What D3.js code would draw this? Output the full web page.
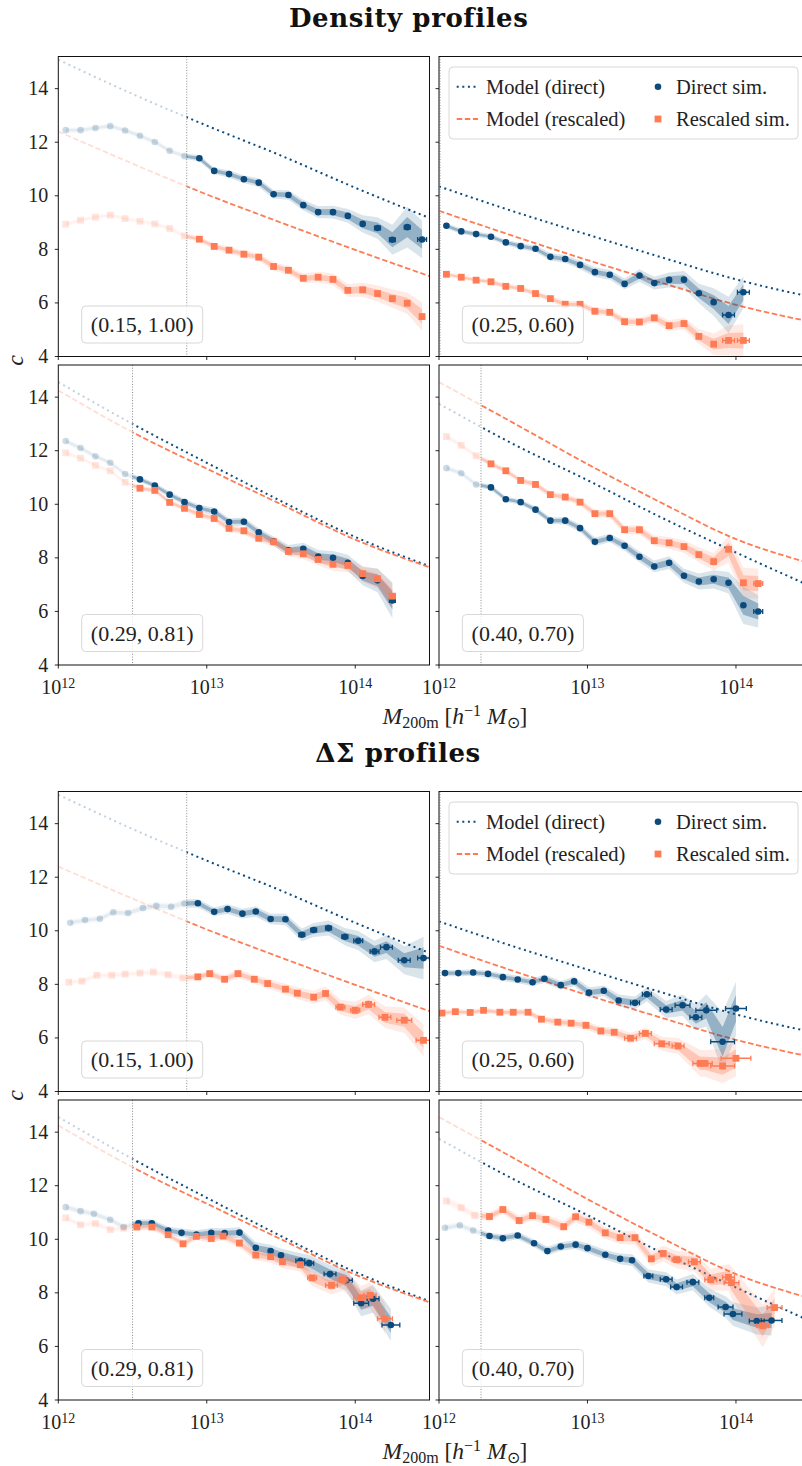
<!DOCTYPE html>
<html><head><meta charset="utf-8">
<script src="https://cdn.jsdelivr.net/npm/d3@7"></script>
<style>body{margin:0;background:#fff}svg{display:block}</style></head>
<body><svg id="c" width="802" height="1466"></svg>
<script>
// ---------------- DATA ----------------
const modelLogM = [12.0, 12.5, 13.0, 13.5, 14.0, 14.5];
const modelTL_dir = [15.08, 13.80, 12.62, 11.50, 10.30, 9.17];
const modelTL_res = [12.40, 11.20, 10.05, 9.00, 7.98, 7.00];
const modelTR_dir = [10.35, 9.42, 8.55, 7.70, 6.88, 6.23];
const modelTR_res = [9.44, 8.50, 7.60, 6.75, 5.93, 5.30];
const modelBL_dir = [14.56, 13.00, 11.55, 10.12, 8.78, 7.69];
const modelBL_res = [14.25, 12.69, 11.33, 10.00, 8.68, 7.65];
const modelBR_dir = [13.75, 12.25, 10.90, 9.50, 8.20, 6.95];
const modelBR_res = [14.56, 13.04, 11.50, 10.05, 8.70, 7.80];

const panelLabels = ["(0.15, 1.00)", "(0.25, 0.60)", "(0.29, 0.81)", "(0.40, 0.70)"];
const massCuts = [12.865, 12.007, 12.5, 12.283];
const groupTitles = ["Density profiles", "ΔΣ profiles"];
const xTickExps = [12, 13, 14];
const yTicks = [4, 6, 8, 10, 12, 14];
const legendLabels = ["Model (direct)", "Model (rescaled)", "Direct sim.", "Rescaled sim."];

// density profiles
const densBins = [12.05,12.15,12.25,12.35,12.45,12.55,12.65,12.75,12.85,12.95,13.05,13.15,13.25,13.35,13.45,13.55,13.65,13.75,13.85,13.95,14.05,14.15,14.25,14.35,14.45];
const densTL_dir = [12.45,12.45,12.53,12.60,12.44,12.24,12.01,11.68,11.48,11.40,10.93,10.81,10.62,10.49,10.06,10.03,9.65,9.39,9.39,9.25,8.95,8.80,8.36,8.83,8.37];
const densTL_dir_err = [0.05,0.05,0.05,0.05,0.05,0.05,0.05,0.05,0.05,0.06,0.06,0.07,0.07,0.08,0.08,0.09,0.10,0.11,0.12,0.13,0.16,0.20,0.28,0.38,0.35];
const densTL_dir_xerrTail = [0.02,0.02,0.02,0.03];
const densTL_res = [8.94,9.09,9.20,9.28,9.15,9.05,8.95,8.78,8.50,8.38,8.11,7.97,7.82,7.71,7.36,7.22,6.92,6.96,6.88,6.47,6.49,6.35,6.16,5.99,5.49];
const densTL_res_err = [0.04,0.04,0.04,0.04,0.04,0.04,0.04,0.05,0.05,0.05,0.06,0.06,0.07,0.07,0.08,0.08,0.09,0.10,0.11,0.12,0.13,0.15,0.17,0.20,0.27];
const densTL_res_xerrTail = [];
const densTR_dir = [8.88,8.67,8.57,8.47,8.26,8.12,8.02,7.72,7.64,7.42,7.15,7.05,6.71,7.02,6.74,6.86,6.87,6.36,6.03,5.55,6.40];
const densTR_dir_err = [0.05,0.05,0.05,0.05,0.05,0.06,0.06,0.07,0.07,0.08,0.09,0.09,0.10,0.12,0.12,0.14,0.16,0.18,0.26,0.34,0.30];
const densTR_dir_xerrTail = [0.04,0.04];
const densTR_res = [7.07,6.96,6.85,6.79,6.62,6.54,6.35,6.16,5.95,5.95,5.69,5.65,5.30,5.29,5.44,5.15,5.23,4.75,4.46,4.60,4.60];
const densTR_res_err = [0.04,0.04,0.04,0.05,0.05,0.05,0.05,0.06,0.06,0.06,0.07,0.07,0.08,0.08,0.09,0.10,0.11,0.14,0.20,0.28,0.30];
const densTR_res_xerrTail = [0.04,0.04];
const densBL_dir = [12.36,12.10,11.79,11.55,11.13,10.93,10.70,10.36,10.08,9.86,9.73,9.34,9.35,8.95,8.62,8.28,8.34,8.05,8.00,7.82,7.32,7.16,6.41];
const densBL_dir_err = [0.05,0.05,0.05,0.05,0.05,0.05,0.05,0.06,0.06,0.06,0.07,0.07,0.08,0.08,0.09,0.10,0.11,0.12,0.13,0.15,0.17,0.22,0.33];
const densBL_dir_xerrTail = [0.02];
const densBL_res = [11.92,11.72,11.45,11.25,10.82,10.60,10.52,10.07,9.85,9.62,9.47,9.10,9.01,8.73,8.60,8.24,8.15,7.94,7.76,7.72,7.41,7.22,6.57];
const densBL_res_err = [0.04,0.04,0.04,0.04,0.04,0.05,0.05,0.05,0.05,0.06,0.06,0.07,0.07,0.08,0.08,0.09,0.10,0.11,0.12,0.13,0.15,0.18,0.25];
const densBL_res_xerrTail = [0.02];
const densBR_dir = [11.35,11.16,10.74,10.63,10.19,10.08,9.80,9.39,9.39,9.11,8.60,8.74,8.45,8.04,7.68,7.82,7.33,7.12,7.20,7.07,6.23,6.00];
const densBR_dir_err = [0.05,0.05,0.05,0.05,0.05,0.05,0.06,0.06,0.07,0.07,0.08,0.08,0.09,0.10,0.11,0.12,0.13,0.15,0.17,0.20,0.35,0.30];
const densBR_dir_xerrTail = [0.03];
const densBR_res = [12.53,12.20,11.81,11.51,11.25,10.89,10.74,10.36,10.27,10.08,9.65,9.65,9.05,9.05,8.64,8.56,8.42,8.12,7.86,8.32,7.07,7.04];
const densBR_res_err = [0.05,0.05,0.05,0.05,0.05,0.05,0.06,0.06,0.06,0.07,0.07,0.08,0.08,0.09,0.10,0.11,0.12,0.14,0.16,0.25,0.28,0.28];
const densBR_res_xerrTail = [0.03];

// Delta Sigma profiles
const dsTL_dir_m = [12.08,12.18,12.28,12.37,12.47,12.57,12.66,12.76,12.85,12.94,13.05,13.14,13.24,13.33,13.43,13.53,13.64,13.72,13.82,13.93,14.02,14.13,14.21,14.33,14.46];
const dsTL_dir = [10.30,10.40,10.45,10.69,10.66,10.85,10.93,10.90,11.02,11.03,10.71,10.81,10.64,10.72,10.44,10.43,9.85,10.03,10.10,9.78,9.63,9.23,9.39,8.90,8.98];
const dsTL_dir_err = [0.06,0.06,0.06,0.06,0.06,0.07,0.07,0.07,0.08,0.08,0.08,0.09,0.09,0.10,0.10,0.11,0.12,0.13,0.14,0.16,0.18,0.20,0.22,0.26,0.40];
const dsTL_dir_xerrTail = [0.02,0.02,0.02,0.02,0.03,0.03,0.04,0.04,0.04];
const dsTL_res_m = [12.07,12.16,12.26,12.36,12.45,12.55,12.64,12.74,12.84,12.94,13.02,13.12,13.21,13.32,13.41,13.53,13.61,13.72,13.80,13.90,14.00,14.09,14.20,14.33,14.46];
const dsTL_res = [8.08,8.12,8.34,8.34,8.38,8.42,8.46,8.36,8.24,8.28,8.40,8.19,8.40,8.19,8.03,7.82,7.67,7.52,7.66,7.15,7.03,7.25,6.77,6.66,5.91];
const dsTL_res_err = [0.05,0.05,0.05,0.05,0.05,0.05,0.05,0.06,0.06,0.06,0.07,0.07,0.08,0.08,0.09,0.10,0.11,0.12,0.13,0.14,0.16,0.18,0.20,0.24,0.30];
const dsTL_res_xerrTail = [0.03,0.03,0.04,0.04,0.05,0.05];
const dsTR_dir_m = [12.04,12.13,12.23,12.33,12.43,12.53,12.63,12.71,12.82,12.91,13.01,13.11,13.21,13.32,13.40,13.53,13.64,13.73,13.80,13.91,14.00];
const dsTR_dir = [8.42,8.42,8.44,8.39,8.27,8.18,8.08,8.21,7.97,8.11,7.69,7.76,7.40,7.31,7.63,7.06,7.22,6.77,7.03,5.86,7.10];
const dsTR_dir_err = [0.06,0.06,0.06,0.06,0.07,0.07,0.07,0.08,0.08,0.09,0.10,0.10,0.11,0.12,0.13,0.16,0.20,0.24,0.30,0.55,0.50];
const dsTR_dir_xerrTail = [0.03,0.03,0.04,0.05,0.04,0.07,0.08,0.07];
const dsTR_res_m = [12.02,12.11,12.21,12.30,12.41,12.50,12.60,12.69,12.80,12.89,12.99,13.09,13.18,13.29,13.39,13.50,13.61,13.76,13.79,13.91,14.00];
const dsTR_res = [6.93,6.98,6.95,7.03,6.96,6.96,6.96,6.70,6.59,6.55,6.47,6.26,6.21,5.99,6.17,5.78,5.70,5.05,5.05,4.95,5.24];
const dsTR_res_err = [0.05,0.05,0.05,0.05,0.05,0.06,0.06,0.06,0.07,0.07,0.08,0.08,0.09,0.10,0.11,0.13,0.15,0.25,0.25,0.32,0.34];
const dsTR_res_xerrTail = [0.04,0.04,0.05,0.04,0.05,0.05,0.08,0.10];
const dsBL_dir_m = [12.05,12.15,12.24,12.35,12.44,12.54,12.63,12.74,12.83,12.93,13.03,13.12,13.22,13.33,13.43,13.50,13.63,13.69,13.83,13.94,14.04,14.12,14.24];
const dsBL_dir = [11.20,11.05,10.95,10.73,10.46,10.60,10.60,10.33,10.24,10.18,10.24,10.23,10.25,9.68,9.56,9.40,9.20,9.11,8.70,8.47,7.61,7.78,6.80];
const dsBL_dir_err = [0.06,0.06,0.06,0.06,0.06,0.07,0.07,0.07,0.08,0.08,0.09,0.09,0.10,0.11,0.12,0.13,0.14,0.15,0.17,0.20,0.24,0.26,0.30];
const dsBL_dir_xerrTail = [0.03,0.03,0.04,0.04,0.05,0.04,0.06];
const dsBL_res_m = [12.05,12.15,12.25,12.35,12.44,12.53,12.63,12.74,12.84,12.93,13.03,13.11,13.22,13.33,13.43,13.51,13.63,13.71,13.84,13.92,14.04,14.10,14.20];
const dsBL_res = [10.80,10.54,10.59,10.36,10.41,10.46,10.46,10.17,9.83,10.11,10.03,10.12,9.86,9.41,9.35,9.16,9.05,8.56,8.28,8.49,7.82,7.91,7.03];
const dsBL_res_err = [0.05,0.05,0.05,0.05,0.05,0.06,0.06,0.06,0.07,0.07,0.08,0.08,0.09,0.10,0.11,0.12,0.13,0.15,0.17,0.20,0.22,0.24,0.28];
const dsBL_res_xerrTail = [0.03,0.04,0.03,0.05,0.04,0.05];
const dsBR_dir_m = [12.04,12.14,12.23,12.34,12.43,12.53,12.64,12.73,12.82,12.92,13.00,13.12,13.22,13.30,13.41,13.53,13.60,13.71,13.82,13.93,13.98,14.14,14.24];
const dsBR_dir = [10.43,10.52,10.33,10.12,10.04,10.14,9.85,9.56,9.73,9.80,9.67,9.42,9.27,9.22,8.63,8.51,8.22,8.40,7.82,7.47,7.21,6.95,6.97];
const dsBR_dir_err = [0.06,0.06,0.06,0.06,0.07,0.07,0.07,0.08,0.08,0.08,0.09,0.09,0.10,0.11,0.12,0.13,0.14,0.15,0.17,0.20,0.22,0.25,0.28];
const dsBR_dir_xerrTail = [0.03,0.04,0.04,0.04,0.03,0.05,0.06,0.05,0.07];
const dsBR_res_m = [12.05,12.15,12.24,12.34,12.43,12.54,12.63,12.72,12.84,12.92,13.01,13.12,13.22,13.32,13.43,13.51,13.60,13.72,13.83,13.95,13.97,14.18,14.26];
const dsBR_res = [11.43,11.18,10.89,10.85,11.11,10.70,10.88,10.74,10.47,10.84,10.64,10.24,10.06,10.06,9.27,9.47,9.24,9.16,8.49,8.58,8.38,6.77,7.45];
const dsBR_res_err = [0.08,0.08,0.08,0.08,0.08,0.09,0.09,0.09,0.10,0.10,0.11,0.11,0.12,0.13,0.14,0.15,0.16,0.18,0.20,0.25,0.30,0.40,0.35];
const dsBR_res_xerrTail = [0.03,0.04,0.04,0.04,0.05,0.04,0.05];

// ---------------- STYLE / LAYOUT ----------------
const BLUE = "#0a4a7c", ORANGE = "#ff7b54";
const SERIF = "'Liberation Serif','Times New Roman',serif";
const PW = 371.2, PH = 300;
const colX = [58.3, 439];
const groupY = [56.5, 791.5];
const rowStep = 308.5;
const svg = d3.select("#c");
const defs = svg.append("defs");

function ser(m, v, e, xt) { return { m, v, e, xt }; }
const groups = [
  [
    { dir: ser(densBins.slice(0, 25), densTL_dir, densTL_dir_err, densTL_dir_xerrTail), res: ser(densBins.slice(0, 25), densTL_res, densTL_res_err, densTL_res_xerrTail), md: modelTL_dir, mr: modelTL_res },
    { dir: ser(densBins.slice(0, 21), densTR_dir, densTR_dir_err, densTR_dir_xerrTail), res: ser(densBins.slice(0, 21), densTR_res, densTR_res_err, densTR_res_xerrTail), md: modelTR_dir, mr: modelTR_res },
    { dir: ser(densBins.slice(0, 23), densBL_dir, densBL_dir_err, densBL_dir_xerrTail), res: ser(densBins.slice(0, 23), densBL_res, densBL_res_err, densBL_res_xerrTail), md: modelBL_dir, mr: modelBL_res },
    { dir: ser(densBins.slice(0, 22), densBR_dir, densBR_dir_err, densBR_dir_xerrTail), res: ser(densBins.slice(0, 22), densBR_res, densBR_res_err, densBR_res_xerrTail), md: modelBR_dir, mr: modelBR_res }
  ],
  [
    { dir: ser(dsTL_dir_m, dsTL_dir, dsTL_dir_err, dsTL_dir_xerrTail), res: ser(dsTL_res_m, dsTL_res, dsTL_res_err, dsTL_res_xerrTail), md: modelTL_dir, mr: modelTL_res },
    { dir: ser(dsTR_dir_m, dsTR_dir, dsTR_dir_err, dsTR_dir_xerrTail), res: ser(dsTR_res_m, dsTR_res, dsTR_res_err, dsTR_res_xerrTail), md: modelTR_dir, mr: modelTR_res },
    { dir: ser(dsBL_dir_m, dsBL_dir, dsBL_dir_err, dsBL_dir_xerrTail), res: ser(dsBL_res_m, dsBL_res, dsBL_res_err, dsBL_res_xerrTail), md: modelBL_dir, mr: modelBL_res },
    { dir: ser(dsBR_dir_m, dsBR_dir, dsBR_dir_err, dsBR_dir_xerrTail), res: ser(dsBR_res_m, dsBR_res, dsBR_res_err, dsBR_res_xerrTail), md: modelBR_dir, mr: modelBR_res }
  ]
];

const DOTTED = "2,3.6", DASHED = "5.5,2.6";

function toPts(s) {
  const n = s.v.length;
  return s.v.map((v, i) => ({
    m: s.m[i], v, e: s.e[i],
    xe: (i >= n - s.xt.length) ? s.xt[i - (n - s.xt.length)] : 0
  }));
}

groups.forEach((panels, g) => {
  // title
  svg.append("text").attr("x", g === 0 ? 408.7 : 398).attr("y", groupY[g] - 29.5)
    .attr("text-anchor", "middle").attr("font-family", "'DejaVu Serif',serif")
    .attr("font-weight", "bold").attr("font-size", 26).attr("letter-spacing", 0.6).attr("fill", "#111")
    .text(groupTitles[g]);

  panels.forEach((P, k) => {
    const r = Math.floor(k / 2), c = k % 2;
    const x0 = colX[c], y0 = groupY[g] + r * rowStep;
    const x = d3.scaleLog().domain([1e12, Math.pow(10, 14.5)]).range([x0, x0 + PW]);
    const y = d3.scaleLinear().domain([4, 15.2]).range([y0 + PH, y0]);
    const cut = massCuts[k];
    const xc = x(Math.pow(10, cut));
    const id = `p${g}${k}`;
    defs.append("clipPath").attr("id", id + "a").append("rect").attr("x", x0).attr("y", y0).attr("width", PW).attr("height", PH);
    defs.append("clipPath").attr("id", id + "lo").append("rect").attr("x", x0).attr("y", y0).attr("width", xc - x0).attr("height", PH);
    defs.append("clipPath").attr("id", id + "hi").append("rect").attr("x", xc).attr("y", y0).attr("width", x0 + PW - xc).attr("height", PH);

    const pg = svg.append("g");
    // vertical mass-cut line
    pg.append("line").attr("x1", xc).attr("x2", xc).attr("y1", y0).attr("y2", y0 + PH)
      .attr("stroke", "#8a8a8a").attr("stroke-width", 1).attr("stroke-dasharray", "1,1.7");

    // models
    const mline = d3.line().x(d => x(Math.pow(10, d[0]))).y(d => y(d[1])).curve(d3.curveMonotoneX);
    const models = [[P.md, BLUE, DOTTED, 2], [P.mr, ORANGE, DASHED, 1.8]];
    ["lo", "hi"].forEach(part => {
      const gg = pg.append("g").attr("clip-path", `url(#${id + part})`).attr("opacity", part === "lo" ? 0.25 : 1);
      models.forEach(([arr, col, dash, w]) => {
        gg.append("path").attr("d", mline(modelLogM.map((m, i) => [m, arr[i]])))
          .attr("fill", "none").attr("stroke", col).attr("stroke-width", w).attr("stroke-dasharray", dash);
      });
    });

    // bands
    const series = [[toPts(P.dir), BLUE, "circle"], [toPts(P.res), ORANGE, "square"]];
    ["lo", "hi"].forEach(part => {
      const gg = pg.append("g").attr("clip-path", `url(#${id + part})`).attr("opacity", part === "lo" ? 0.25 : 1);
      series.forEach(([pts, col]) => {
        [[2, 0.15], [1, 0.33]].forEach(([kk, op]) => {
          const area = d3.area().x(d => x(Math.pow(10, d.m))).y0(d => y(d.v - kk * d.e)).y1(d => y(d.v + kk * d.e));
          gg.append("path").attr("d", area(pts)).attr("fill", col).attr("fill-opacity", op);
        });
      });
    });

    // points
    const ptg = pg.append("g").attr("clip-path", `url(#${id}a)`);
    series.forEach(([pts, col, shape]) => {
      pts.forEach(d => {
        const px = x(Math.pow(10, d.m)), py = y(d.v);
        const faded = d.m < cut;
        const gp = ptg.append("g").attr("opacity", faded ? 0.2 : 1);
        if (d.xe > 0) {
          const xa = x(Math.pow(10, d.m - d.xe)), xb = x(Math.pow(10, d.m + d.xe));
          gp.append("line").attr("x1", xa).attr("x2", xb).attr("y1", py).attr("y2", py).attr("stroke", col).attr("stroke-width", 1.5);
          [xa, xb].forEach(xx => gp.append("line").attr("x1", xx).attr("x2", xx).attr("y1", py - 2.5).attr("y2", py + 2.5).attr("stroke", col).attr("stroke-width", 1.3));
        }
        if (shape === "circle") gp.append("circle").attr("cx", px).attr("cy", py).attr("r", 3.3).attr("fill", col);
        else gp.append("rect").attr("x", px - 3.4).attr("y", py - 3.4).attr("width", 6.8).attr("height", 6.8).attr("fill", col);
      });
    });

    // panel label box
    const lb = pg.append("g");
    lb.append("rect").attr("x", x0 + 23.4).attr("y", y0 + PH - 50.5).attr("width", 121).attr("height", 37).attr("rx", 4)
      .attr("fill", "#fff").attr("fill-opacity", 0.8).attr("stroke", "#d8d8d8").attr("stroke-width", 1);
    lb.append("text").attr("x", x0 + 23.4 + 60.5).attr("y", y0 + PH - 24.5).attr("text-anchor", "middle")
      .attr("font-family", SERIF).attr("font-size", 22).attr("fill", "#222").text(panelLabels[k]);

    // frame
    pg.append("rect").attr("x", x0).attr("y", y0).attr("width", PW).attr("height", PH)
      .attr("fill", "none").attr("stroke", "#111").attr("stroke-width", 1);

    // y ticks
    yTicks.forEach(t => {
      pg.append("line").attr("x1", x0 - 3.5).attr("x2", x0).attr("y1", y(t)).attr("y2", y(t)).attr("stroke", "#111").attr("stroke-width", 0.9);
      if (c === 0) pg.append("text").attr("x", x0 - 10).attr("y", y(t) + 6.5).attr("text-anchor", "end")
        .attr("font-family", SERIF).attr("font-size", 20).attr("fill", "#222").text(t);
    });
    // x ticks
    xTickExps.forEach(e => {
      const xx = x(Math.pow(10, e));
      pg.append("line").attr("x1", xx).attr("x2", xx).attr("y1", y0 + PH).attr("y2", y0 + PH + 3.5).attr("stroke", "#111").attr("stroke-width", 0.9);
      if (r === 1) {
        const t = pg.append("text").attr("x", xx).attr("y", y0 + PH + 29).attr("text-anchor", "middle")
          .attr("font-family", SERIF).attr("font-size", 20).attr("fill", "#222");
        t.append("tspan").text("10");
        t.append("tspan").attr("font-size", 14).attr("dy", -6).text(e);
      }
    });

    // legend
    if (r === 0 && c === 1) {
      const lx = 449, ly = y0 + 10.5;
      const lg = svg.append("g");
      lg.append("rect").attr("x", lx).attr("y", ly).attr("width", 349).attr("height", 72).attr("rx", 4)
        .attr("fill", "#fff").attr("fill-opacity", 0.8).attr("stroke", "#d8d8d8").attr("stroke-width", 1);
      const r1 = ly + 19.7, r2 = ly + 52;
      lg.append("line").attr("x1", 456.7).attr("x2", 478).attr("y1", r1).attr("y2", r1).attr("stroke", BLUE).attr("stroke-width", 2).attr("stroke-dasharray", DOTTED);
      lg.append("line").attr("x1", 456.7).attr("x2", 478).attr("y1", r2).attr("y2", r2).attr("stroke", ORANGE).attr("stroke-width", 1.8).attr("stroke-dasharray", DASHED);
      lg.append("circle").attr("cx", 658).attr("cy", r1).attr("r", 3.3).attr("fill", BLUE);
      lg.append("rect").attr("x", 658 - 3.4).attr("y", r2 - 3.4).attr("width", 6.8).attr("height", 6.8).attr("fill", ORANGE);
      [[486, r1, 0], [486, r2, 1], [676, r1, 2], [676, r2, 3]].forEach(([tx, ty, i]) => {
        lg.append("text").attr("x", tx).attr("y", ty + 7).attr("font-family", SERIF).attr("font-size", 20.5)
          .attr("fill", "#222").text(legendLabels[i]);
      });
    }
  });

  // y label
  svg.append("text").attr("transform", `translate(23,${groupY[g] + 304})rotate(-90)`).attr("text-anchor", "middle")
    .attr("font-family", SERIF).attr("font-style", "italic").attr("font-size", 24).attr("fill", "#222").text("c");

  // x label
  const xl = svg.append("text").attr("x", 455).attr("y", groupY[g] + 667).attr("text-anchor", "middle")
    .attr("font-family", SERIF).attr("font-size", 23.5).attr("fill", "#222");
  xl.append("tspan").attr("font-style", "italic").text("M");
  xl.append("tspan").attr("font-size", 16).attr("dy", 4).text("200m");
  xl.append("tspan").attr("dy", -4).text(" [");
  xl.append("tspan").attr("font-style", "italic").text("h");
  xl.append("tspan").attr("font-size", 16).attr("dy", -8).text("−1");
  xl.append("tspan").attr("dy", 8).text(" ");
  xl.append("tspan").attr("font-style", "italic").text("M");
  xl.append("tspan").attr("font-size", 16).attr("dy", 4).text("⊙");
  xl.append("tspan").attr("dy", -4).text("]");
});
</script>
</body></html>
